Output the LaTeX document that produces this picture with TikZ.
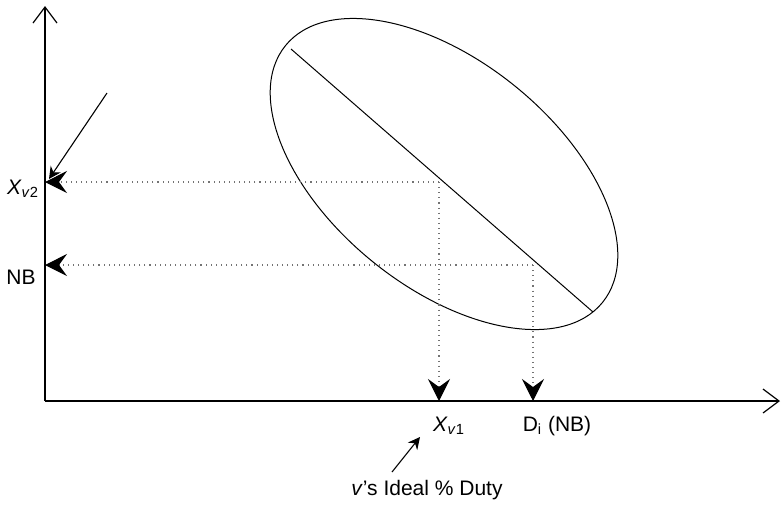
\documentclass[tikz,border=0pt]{standalone}
\usepackage{fontspec}
\setmainfont{Liberation Sans}
\usetikzlibrary{arrows.meta,calc}
\definecolor{GuideClr}{rgb}{0.45,0.45,0.45}

\begin{document}
\begin{tikzpicture}[x=0.5pt,y=-0.5pt,
  axis/.style={line width=0.75pt,-{Straight Barb[length=8pt,width=12pt,line width=0.6pt]}},
  guide/.style={GuideClr,dotted,line width=0.55pt,-{Stealth[length=11pt,width=11pt,inset=4pt,black]}},
  pointer/.style={line width=0.55pt,-{Stealth[length=6pt,width=6pt,inset=2pt]}},
  lbl/.style={font=\fontsize{10.5}{12}\selectfont,inner sep=0pt}]
\useasboundingbox (0,0) rectangle (781,505);

\coordinate (O) at (45,401);
\coordinate (Ytop) at (45,6);
\coordinate (Xend) at (780,401);
\coordinate (C) at (444,174);
\coordinate (L1) at (291,49);
\coordinate (L2) at (593,312);
\coordinate (P1) at (439,182);
\coordinate (P2) at (533,265);
\coordinate (Q1) at (107,93);
\coordinate (Q2) at (49,179);
\coordinate (R1) at (392,472);
\coordinate (R2) at (420,437);

\draw[axis] (O) -- (Ytop);
\draw[axis] (O) -- (Xend);

\draw[line width=0.5pt] (C) circle[x radius=204,y radius=113,rotate=-39];
\draw[line width=0.5pt] (L1) -- (L2);

\draw[guide] (P1) -- (P1 -| O);
\draw[guide] (P2) -- (P2 -| O);
\draw[guide] (P1) -- (P1 |- O);
\draw[guide] (P2) -- (P2 |- O);

\draw[pointer] (Q1) -- (Q2);
\draw[pointer] (R1) -- (R2);

\node[lbl] (xv2) at (23,189) {\textit{X}\textsubscript{\textit{v}2}};
\node[lbl] (nb) at (21,277) {NB};
\node[lbl] (xv1) at (449,426) {\textit{X}\textsubscript{\textit{v}1}};
\node[lbl] (di) at (557,426) {D\textsubscript{i} (NB)};
\node[lbl] (duty) at (427,490) {\textit{v}’s Ideal \% Duty};
\end{tikzpicture}
\end{document}
